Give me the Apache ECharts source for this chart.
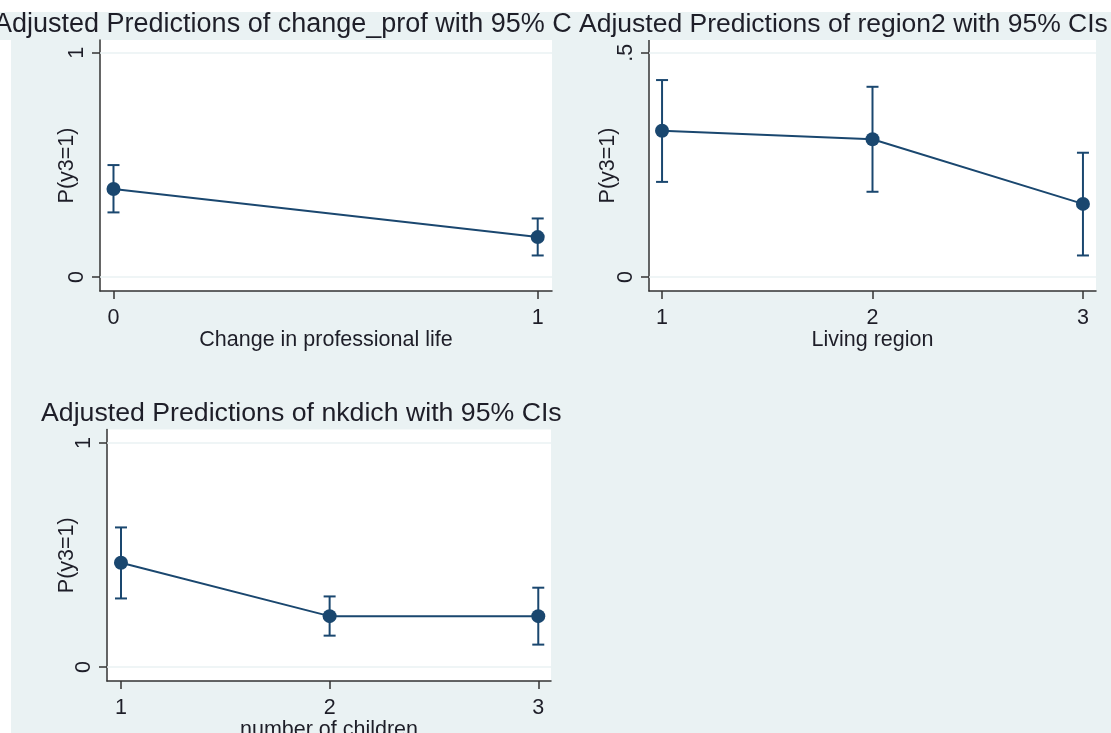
<!DOCTYPE html>
<html>
<head>
<meta charset="utf-8">
<script src="https://cdn.jsdelivr.net/npm/echarts@6/dist/echarts.min.js"></script>
<style>
html,body{margin:0;padding:0;background:#eaf2f3;}
#chart{width:1111px;height:733px;}
</style>
</head>
<body>
<div id="chart"></div>
<script>
// ---- Data ----
const titles = [
  'Adjusted Predictions of change_prof with 95% CIs',
  'Adjusted Predictions of region2 with 95% CIs',
  'Adjusted Predictions of nkdich with 95% CIs'
];
const xNames = ['Change in professional life', 'Living region', 'number of children'];
const yName = 'P(y3=1)';

const cat1 = [0, 1];
const est1 = [0.392, 0.178];
const lo1  = [0.288, 0.096];
const hi1  = [0.499, 0.261];

const cat2 = [1, 2, 3];
const est2 = [0.326, 0.307, 0.163];
const lo2  = [0.212, 0.190, 0.048];
const hi2  = [0.439, 0.424, 0.277];

const cat3 = [1, 2, 3];
const est3 = [0.465, 0.227, 0.227];
const lo3  = [0.306, 0.140, 0.100];
const hi3  = [0.623, 0.315, 0.354];

const xTicks1 = [0, 1];
const xTicks2 = [1, 2, 3];
const xTicks3 = [1, 2, 3];
const yTicks1 = [0, 1];
const yTicks2 = [0, 0.5];
const yTicks3 = [0, 1];

// ---- Style ----
const FONT = '"Liberation Sans", Arial, sans-serif';
const NAVY = '#1a476f';
const AXIS = '#333333';
const TXT = '#1e1e28';
const GRIDC = '#eaf2f3';
const BG = '#eaf2f3';
const FS = 21.5;

const chart = echarts.init(document.getElementById('chart'), null, {renderer: 'canvas'});

function fmt(v) { return v === 0.5 ? '.5' : String(v); }

function xAxisOpt(idx, min, max, ticks, name) {
  return {
    type: 'value', gridIndex: idx, min: min, max: max,
    name: name, nameLocation: 'middle', nameGap: 38, nameMoveOverlap: false,
    nameTextStyle: {fontFamily: FONT, fontSize: FS, color: TXT},
    axisLine: {show: true, onZero: false, lineStyle: {color: AXIS, width: 1.5}},
    axisTick: {show: true, length: 8, customValues: ticks, lineStyle: {color: AXIS, width: 1.5}},
    axisLabel: {show: true, customValues: ticks, formatter: fmt, margin: 16,
      fontFamily: FONT, fontSize: FS, color: TXT},
    splitLine: {show: false}
  };
}
function yAxisOpt(idx, min, max, ticks, gap) {
  return {
    type: 'value', gridIndex: idx, min: min, max: max,
    name: yName, nameLocation: 'middle', nameGap: gap, nameRotate: 90, nameMoveOverlap: false,
    nameTextStyle: {fontFamily: FONT, fontSize: FS, color: TXT},
    axisLine: {show: true, onZero: false, lineStyle: {color: AXIS, width: 1.5}},
    axisTick: {show: true, length: 8, customValues: ticks, lineStyle: {color: AXIS, width: 1.5}},
    axisLabel: {show: true, customValues: ticks, formatter: fmt, rotate: 90, margin: 12,
      fontFamily: FONT, fontSize: FS, color: TXT},
    splitLine: {show: false}
  };
}

function errItem(params, api) {
  const x = api.value(0), lo = api.value(1), hi = api.value(2);
  const a = api.coord([x, lo]), b = api.coord([x, hi]);
  const w = 6;
  const st = {stroke: NAVY, lineWidth: 2};
  return {type: 'group', children: [
    {type: 'line', shape: {x1: a[0], y1: a[1], x2: b[0], y2: b[1]}, style: st},
    {type: 'line', shape: {x1: a[0] - w, y1: a[1], x2: a[0] + w, y2: a[1]}, style: st},
    {type: 'line', shape: {x1: b[0] - w, y1: b[1], x2: b[0] + w, y2: b[1]}, style: st}
  ]};
}

function panelSeries(idx, cats, est, lo, hi, gridVals) {
  return [
    {
      type: 'custom', xAxisIndex: idx, yAxisIndex: idx, renderItem: errItem,
      data: cats.map((c, i) => [c, lo[i], hi[i]]), encode: {x: 0, y: [1, 2]}, z: 3, silent: true
    },
    {
      type: 'line', xAxisIndex: idx, yAxisIndex: idx,
      data: cats.map((c, i) => [c, est[i]]),
      symbol: 'circle', symbolSize: 14, showSymbol: true,
      lineStyle: {color: NAVY, width: 2}, itemStyle: {color: NAVY},
      z: 4, silent: true,
      markLine: {
        silent: true, symbol: 'none', label: {show: false}, z: 1,
        lineStyle: {color: GRIDC, width: 1.5, type: 'solid'},
        data: gridVals.map(v => ({yAxis: v}))
      }
    }
  ];
}

const gridBase = {show: true, backgroundColor: '#fff', borderWidth: 0, containLabel: false, outerBoundsMode: 'none'};

const option = {
  backgroundColor: BG,
  animation: false,
  grid: [
    Object.assign({left: 100, top: 40, width: 452, height: 251}, gridBase),
    Object.assign({left: 649, top: 40, width: 447, height: 251}, gridBase),
    Object.assign({left: 107, top: 429.5, width: 444, height: 251.5}, gridBase)
  ],
  xAxis: [
    xAxisOpt(0, -0.0318, 1.0337, xTicks1, xNames[0]),
    xAxisOpt(1, 0.938, 3.062, xTicks2, xNames[1]),
    xAxisOpt(2, 0.933, 3.061, xTicks3, xNames[2])
  ],
  yAxis: [
    yAxisOpt(0, -0.0624, 1.0566, yTicks1, 22),
    yAxisOpt(1, -0.0312, 0.5283, yTicks2, 30),
    yAxisOpt(2, -0.0624, 1.06, yTicks3, 29)
  ],
  series: [].concat(
    panelSeries(0, cat1, est1, lo1, hi1, yTicks1),
    panelSeries(1, cat2, est2, lo2, hi2, yTicks2),
    panelSeries(2, cat3, est3, lo3, hi3, yTicks3)
  ),
  graphic: [
    {type: 'rect', shape: {x: 0, y: 0, width: 1111, height: 12}, style: {fill: '#ffffff'}, z: 0, silent: true},
    {type: 'rect', shape: {x: 0, y: 40, width: 11, height: 693}, style: {fill: '#ffffff'}, z: 0, silent: true},
    {type: 'text', x: -6, y: 25, z: 100, silent: true,
      style: {text: titles[0], font: '27px ' + FONT, fill: TXT, textAlign: 'left', textVerticalAlign: 'middle'}},
    {type: 'rect', shape: {x: 574, y: 12, width: 537, height: 28}, style: {fill: BG}, z: 101, silent: true},
    {type: 'text', x: 579, y: 25, z: 102, silent: true,
      style: {text: titles[1], font: '26.5px ' + FONT, fill: TXT, textAlign: 'left', textVerticalAlign: 'middle'}},
    {type: 'text', x: 41, y: 414, z: 100, silent: true,
      style: {text: titles[2], font: '26.7px ' + FONT, fill: TXT, textAlign: 'left', textVerticalAlign: 'middle'}}
  ]
};
chart.setOption(option);
</script>
</body>
</html>
